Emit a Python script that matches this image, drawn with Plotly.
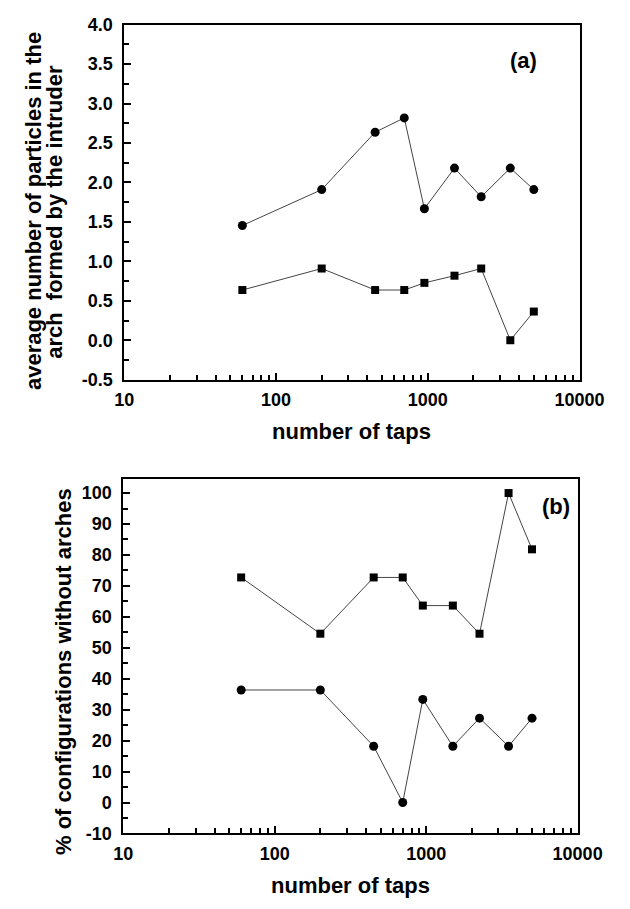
import plotly.graph_objects as go

# ---- data ----
taps = [60, 200, 450, 700, 950, 1500, 2250, 3500, 5000]
a_circles = [1.4545, 1.9091, 2.6364, 2.8182, 1.6667, 2.1818, 1.8182, 2.1818, 1.9091]
a_squares = [0.6364, 0.9091, 0.6364, 0.6364, 0.7273, 0.8182, 0.9091, 0.0, 0.3636]
b_squares = [72.73, 54.55, 72.73, 72.73, 63.64, 63.64, 54.55, 100.0, 81.82]
b_circles = [36.36, 36.36, 18.18, 0.0, 33.33, 18.18, 27.27, 18.18, 27.27]

x_major = [10, 100, 1000, 10000]
x_major_text = ["10", "100", "1000", "10000"]
x_minor = [m * d for d in (10, 100, 1000) for m in range(2, 10)]

ya_major = [-0.5, 0.0, 0.5, 1.0, 1.5, 2.0, 2.5, 3.0, 3.5, 4.0]
ya_major_text = ["-0.5", "0.0", "0.5", "1.0", "1.5", "2.0", "2.5", "3.0", "3.5", "4.0"]
ya_minor = [-0.25, 0.25, 0.75, 1.25, 1.75, 2.25, 2.75, 3.25, 3.75]

yb_major = [-10, 0, 10, 20, 30, 40, 50, 60, 70, 80, 90, 100]
yb_major_text = ["-10", "0", "10", "20", "30", "40", "50", "60", "70", "80", "90", "100"]
yb_minor = [-5, 5, 15, 25, 35, 45, 55, 65, 75, 85, 95]

W, H = 630, 909
FONT = "Liberation Sans"
LINE = dict(color="#444", width=1)

def py(px):
    return 1 - px / H

fig = go.Figure()

def add(x, y, sym, size, xa, ya):
    fig.add_trace(go.Scatter(
        x=x, y=y, mode="lines+markers", xaxis=xa, yaxis=ya,
        line=LINE, marker=dict(symbol=sym, size=size, color="black"),
        showlegend=False, cliponaxis=False))

add(taps, a_circles, "circle", 9, "x", "y")
add(taps, a_squares, "square", 8, "x", "y")
add(taps, b_squares, "square", 8, "x2", "y2")
add(taps, b_circles, "circle", 9, "x2", "y2")

tickfont = dict(family=FONT, size=18, color="black", weight="bold")

def xaxis(domain, anchor):
    return dict(domain=domain, anchor=anchor, type="log", range=[1, 4],
                tickmode="array", tickvals=x_major, ticktext=x_major_text,
                ticks="inside", ticklen=7, tickwidth=1.5, tickcolor="black",
                minor=dict(tickmode="array", tickvals=x_minor, ticks="inside",
                           ticklen=5, tickwidth=1.5, tickcolor="black", showgrid=False),
                showline=True, linewidth=2, linecolor="black", mirror=True,
                showgrid=False, zeroline=False, tickfont=tickfont,
                ticklabelstandoff=3)

def yaxis(domain, anchor, rng, vals, text, minor):
    return dict(domain=domain, anchor=anchor, range=rng,
                tickmode="array", tickvals=vals, ticktext=text,
                ticks="inside", ticklen=7, tickwidth=1.5, tickcolor="black",
                minor=dict(tickmode="array", tickvals=minor, ticks="inside",
                           ticklen=5, tickwidth=1.5, tickcolor="black", showgrid=False),
                showline=True, linewidth=2, linecolor="black", mirror=True,
                showgrid=False, zeroline=False, tickfont=tickfont,
                ticklabelstandoff=6)

fig.update_layout(
    width=W, height=H, margin=dict(l=0, r=0, t=0, b=0),
    paper_bgcolor="white", plot_bgcolor="white",
    xaxis=xaxis([121 / W, 603 / W], "y"),
    yaxis=yaxis([py(378), py(15)], "x", [-0.5, 4.0], ya_major, ya_major_text, ya_minor),
    xaxis2=xaxis([120 / W, 601 / W], "y2"),
    yaxis2=yaxis([py(842), py(480)], "x2", [-10, 104.4], yb_major, yb_major_text, yb_minor),
)

def ann(text, x, y, size, angle=0):
    fig.add_annotation(text=text, x=x / W, y=py(y), xref="paper", yref="paper",
                       xanchor="center", yanchor="middle", showarrow=False,
                       textangle=angle,
                       font=dict(family=FONT, size=size, color="black", weight="bold"))

ann("average number of particles in the", 25, 206, 22, -90)
ann("arch\u00a0 formed by the intruder", 47, 206, 22, -90)
ann("number of taps", 362, 431, 22)
ann("(a)", 544, 52, 22)

ann("% of configurations without arches", 56, 676, 22, -90)
ann("number of taps", 361, 895, 22)
ann("(b)", 578, 508, 22)

fig.write_html("out.html")
